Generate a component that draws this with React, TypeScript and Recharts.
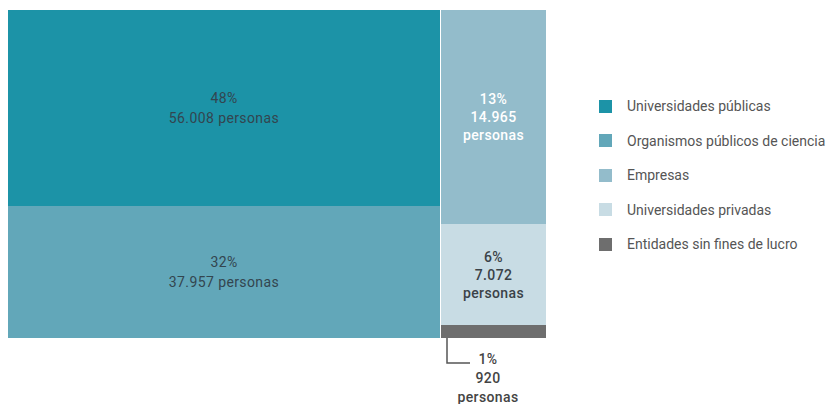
import { Treemap } from 'recharts';

// Investigadores por tipo de institución
const leftNames = ['Universidades públicas', 'Organismos públicos de ciencia'];
const leftValues = [56008, 37957];
const rightNames = ['Empresas', 'Universidades privadas', 'Entidades sin fines de lucro'];
const rightValues = [14965, 7072, 920];

const legendNames = [...leftNames, ...rightNames];

const colors: Record<string, string> = {
  'Universidades públicas': '#1c93a7',
  'Organismos públicos de ciencia': '#62a7b9',
  Empresas: '#93bccb',
  'Universidades privadas': '#c8dce4',
  'Entidades sin fines de lucro': '#6e6e6e',
};

const textColors: Record<string, string> = {
  'Universidades públicas': '#33454f',
  'Organismos públicos de ciencia': '#33454f',
  Empresas: '#ffffff',
  'Universidades privadas': '#3a4248',
  'Entidades sin fines de lucro': '#444444',
};

const total = [...leftValues, ...rightValues].reduce((a, b) => a + b, 0);

const data = [
  { name: 'grupo1', children: leftNames.map((name, i) => ({ name, size: leftValues[i] })) },
  { name: 'grupo2', children: rightNames.map((name, i) => ({ name, size: rightValues[i] })) },
];

const fmt = (v: number) => String(v).replace(/\B(?=(\d{3})+(?!\d))/g, '.');

const FONT = 'Roboto, "DejaVu Sans", sans-serif';

const CellContent = (props: any) => {
  const { depth, x, y, width, height, name, value } = props;
  if (depth !== 2) return <g />;

  // thin white gap between the two columns
  const rx = x > 0 ? x + 1 : x;
  const rw = x > 0 ? width - 1 : width;
  const pct = `${Math.round((value / total) * 100)}%`;
  const fill = textColors[name] || '#333';
  const narrow = width < 150;
  const bold = narrow ? 500 : 400;

  if (height < 30) {
    // small slice: callout below
    const by = y + height;
    return (
      <g>
        <rect x={rx} y={y} width={rw} height={height} fill={colors[name]} />
        <polyline
          points={`${rx + 6},${by} ${rx + 6},${by + 25} ${rx + 29},${by + 25}`}
          fill="none"
          stroke="#555"
          strokeWidth={1.5}
        />
        {[pct, fmt(value), 'personas'].map((t, i) => (
          <text
            key={i}
            x={rx + 47}
            y={by + 21 + i * 19}
            textAnchor="middle"
            dominantBaseline="central"
            fill={fill}
            fontSize={14}
            fontWeight={500}
            fontFamily={FONT}
            letterSpacing={0.4}
          >
            {t}
          </text>
        ))}
      </g>
    );
  }

  const lines = narrow ? [pct, fmt(value), 'personas'] : [pct, `${fmt(value)} personas`];
  const lh = narrow ? 18 : 20;
  const cx = rx + rw / 2;
  const cy = y + height / 2;
  const start = cy - ((lines.length - 1) * lh) / 2;

  return (
    <g>
      <rect x={rx} y={y} width={rw} height={height} fill={colors[name]} />
      {lines.map((t, i) => (
        <text
          key={i}
          x={cx}
          y={start + i * lh}
          textAnchor="middle"
          dominantBaseline="central"
          fill={fill}
          fontSize={14}
          fontWeight={bold}
          fontFamily={FONT}
          letterSpacing={0.4}
        >
          {t}
        </text>
      ))}
    </g>
  );
};

export default function App() {
  return (
    <div style={{ position: 'relative', width: 829, height: 404, fontFamily: FONT, overflow: 'hidden' }}>
      <style>{`body{margin:0}.recharts-surface{overflow:visible}`}</style>
      <div style={{ position: 'absolute', left: 8, top: 10 }}>
        <Treemap
          width={538}
          height={328}
          data={data}
          dataKey="size"
          nameKey="name"
          isAnimationActive={false}
          content={<CellContent />}
        />
      </div>

      {/* legend */}
      <div style={{ position: 'absolute', left: 599, top: 89 }}>
        {legendNames.map((name) => (
          <div key={name} style={{ display: 'flex', alignItems: 'center', height: 34.5 }}>
            <span style={{ width: 13, height: 13, background: colors[name], display: 'inline-block' }} />
            <span style={{ marginLeft: 15, fontSize: 14, color: '#555', whiteSpace: 'nowrap' }}>{name}</span>
          </div>
        ))}
      </div>
    </div>
  );
}
